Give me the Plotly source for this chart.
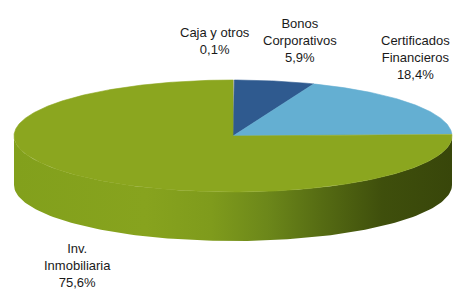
import numpy as np
import plotly.graph_objects as go

# ---- data ----
categories = ["Caja y otros", "Bonos Corporativos", "Certificados Financieros", "Inv. Inmobiliaria"]
label_lines = ["Caja y otros", "Bonos<br>Corporativos", "Certificados<br>Financieros", "Inv.<br>Inmobiliaria"]
values = [0.1, 5.9, 18.4, 75.6]
pct_labels = ["0,1%", "5,9%", "18,4%", "75,6%"]
top_colors = ["#c8c8c8", "#2f5a8f", "#64afd2", "#8ba61f"]
side_scales = [
    [[0, "#a0a0a0"], [1, "#606060"]],
    [[0, "#24466f"], [1, "#162c48"]],
    [[0, "#4b8fae"], [1, "#2e6078"]],
    [[0, "#82a01c"], [0.3, "#87a31e"], [0.45, "#7f9b1c"], [0.58, "#6c871a"],
     [0.7, "#566c13"], [0.84, "#3f4f0c"], [1, "#38460a"]],
]

# ---- geometry (layout, pixel space) ----
W, H = 453, 294
cx, cy, rx, ry, depth = 233, 136, 219, 56, 49
label_pos = [(215, 41), (300, 40), (415, 57), (77, 265)]


def pt(theta_deg):
    t = np.radians(theta_deg)
    return cx + rx * np.sin(t), cy - ry * np.cos(t)


total = sum(values)
cum = np.concatenate([[0], np.cumsum(values)]) / total * 360.0

fig = go.Figure()

# side walls (visible front part: 90..270 deg clockwise from top)
for i in range(len(values)):
    a0, a1 = cum[i], cum[i + 1]
    s, e = max(a0, 90.0), min(a1, 270.0)
    if e <= s:
        continue
    th = np.linspace(s, e, 120)
    xs, ys = pt(th)
    px = np.concatenate([xs, xs[::-1]])
    py = np.concatenate([ys, (ys + depth)[::-1]])
    fig.add_trace(go.Scatter(
        x=px, y=py, mode="lines", fill="toself",
        line=dict(width=0), fillcolor=top_colors[i],
        fillgradient=dict(type="horizontal", colorscale=side_scales[i]),
        hoverinfo="skip", showlegend=False))

# top face slices
for i in range(len(values)):
    a0, a1 = cum[i], cum[i + 1]
    n = max(3, int((a1 - a0) * 2))
    th = np.linspace(a0, a1, n)
    xs, ys = pt(th)
    px = np.concatenate([[cx], xs, [cx]])
    py = np.concatenate([[cy], ys, [cy]])
    fig.add_trace(go.Scatter(
        x=px, y=py, mode="lines", fill="toself",
        line=dict(width=0.6, color=top_colors[i]), fillcolor=top_colors[i],
        name=categories[i], hoverinfo="name", showlegend=False))

for i in range(len(values)):
    x, y = label_pos[i]
    fig.add_annotation(
        x=x, y=y, xref="x", yref="y", showarrow=False,
        text=f"{label_lines[i]}<br>{pct_labels[i]}",
        font=dict(family="Liberation Sans, Arial, sans-serif", size=13, color="#1a1a1a"),
        align="center", xanchor="center", yanchor="middle")

fig.update_layout(
    width=W, height=H, margin=dict(l=0, r=0, t=0, b=0),
    paper_bgcolor="white", plot_bgcolor="white",
    xaxis=dict(range=[0, W], visible=False, fixedrange=True),
    yaxis=dict(range=[H, 0], visible=False, fixedrange=True),
)

fig.write_html("out.html", config={"displayModeBar": False},
               post_script="document.body.style.margin='0';document.body.style.overflow='hidden';")
